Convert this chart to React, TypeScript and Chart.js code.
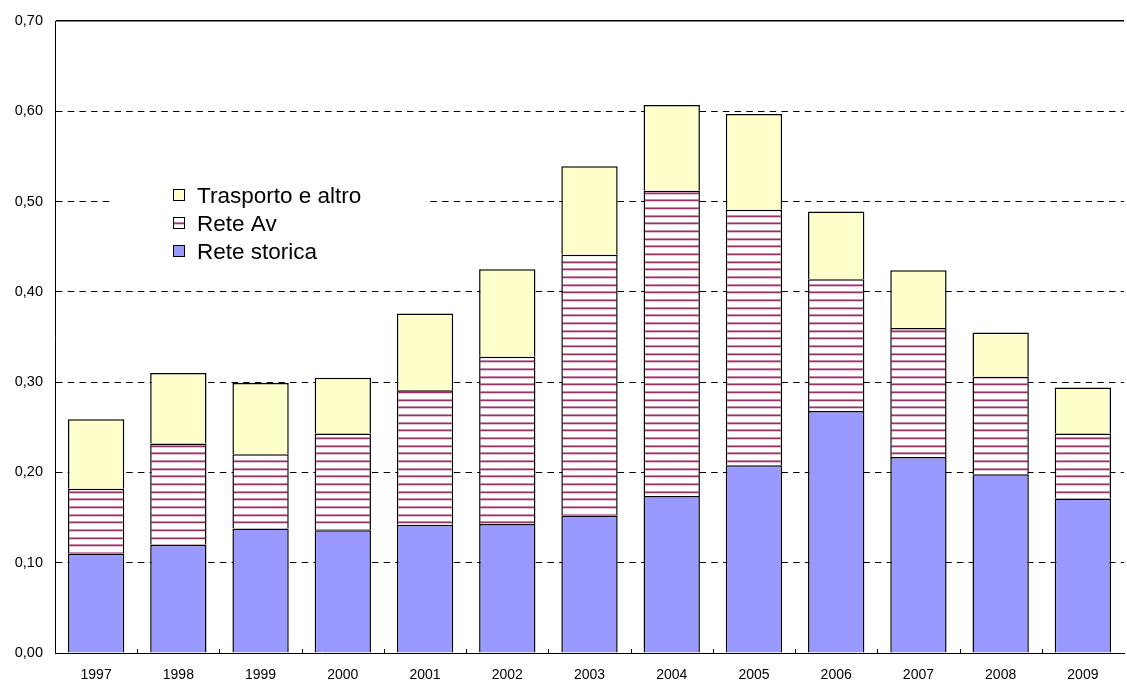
import React, { useEffect, useRef } from 'react';
import { Chart, registerables } from 'chart.js';

Chart.register(...registerables);

const years = ['1997', '1998', '1999', '2000', '2001', '2002', '2003', '2004', '2005', '2006', '2007', '2008', '2009'];
const reteStorica = [0.110, 0.120, 0.138, 0.136, 0.142, 0.143, 0.152, 0.174, 0.208, 0.268, 0.217, 0.198, 0.171];
const reteAv = [0.072, 0.112, 0.082, 0.107, 0.149, 0.185, 0.289, 0.338, 0.283, 0.146, 0.143, 0.108, 0.072];
const trasportoAltro = [0.077, 0.078, 0.079, 0.062, 0.085, 0.097, 0.098, 0.095, 0.106, 0.075, 0.064, 0.049, 0.051];
const yTickValues = [0, 0.1, 0.2, 0.3, 0.4, 0.5, 0.6, 0.7];
const seriesNames = ['Rete storica', 'Rete Av', 'Trasporto e altro'];

const FONT = "'Liberation Sans', Arial, Helvetica, sans-serif";

function makeStripePattern(ctx: CanvasRenderingContext2D): CanvasPattern | string {
  const c = document.createElement('canvas');
  c.width = 8;
  c.height = 23;
  const g = c.getContext('2d');
  if (!g) return '#993366';
  g.fillStyle = '#ffffff';
  g.fillRect(0, 0, 8, 23);
  for (const o of [0, 8, 15]) {
    g.fillStyle = '#c88aa9';
    g.fillRect(0, o, 8, 1);
    g.fillStyle = '#993366';
    g.fillRect(0, o + 1, 8, 1);
    g.fillStyle = '#e4c4d4';
    g.fillRect(0, o + 2, 8, 1);
  }
  return ctx.createPattern(c, 'repeat') || '#993366';
}

const boxLegendPlugin = {
  id: 'boxLegend',
  afterDatasetsDraw(chart: any) {
    const ctx = chart.ctx as CanvasRenderingContext2D;
    ctx.save();
    ctx.fillStyle = '#ffffff';
    ctx.fillRect(110, 168, 315, 104);
    const ds = chart.data.datasets.slice().reverse();
    ds.forEach((d: any, i: number) => {
      const base = 203 + i * 28;
      ctx.fillStyle = d.backgroundColor;
      ctx.fillRect(173, base - 14, 12, 12);
      ctx.strokeStyle = '#000000';
      ctx.lineWidth = 1;
      ctx.strokeRect(173.5, base - 13.5, 11, 11);
      ctx.fillStyle = '#000000';
      ctx.font = `22.5px ${FONT}`;
      ctx.textBaseline = 'alphabetic';
      ctx.textAlign = 'left';
      ctx.fillText(d.label, 197, base);
    });
    ctx.restore();
  },
};

const innerTicksPlugin = {
  id: 'innerTicks',
  afterDraw(chart: any) {
    const x = chart.scales.x;
    const ctx = chart.ctx as CanvasRenderingContext2D;
    const bottom = chart.chartArea.bottom;
    ctx.save();
    ctx.strokeStyle = '#000000';
    ctx.lineWidth = 1;
    for (let i = 1; i < years.length; i++) {
      const px = Math.round((x.getPixelForValue(i - 1) + x.getPixelForValue(i)) / 2) + 0.5;
      ctx.beginPath();
      ctx.moveTo(px, bottom);
      ctx.lineTo(px, bottom - 4);
      ctx.stroke();
    }
    ctx.restore();
  },
};

export default function App() {
  const canvasRef = useRef<HTMLCanvasElement | null>(null);

  useEffect(() => {
    const canvas = canvasRef.current;
    if (!canvas) return;
    const ctx = canvas.getContext('2d');
    if (!ctx) return;
    const stripes = makeStripePattern(ctx);

    const chart = new Chart(ctx, {
      type: 'bar',
      data: {
        labels: years,
        datasets: [
          {
            label: seriesNames[0],
            data: reteStorica,
            backgroundColor: '#9999ff',
            borderColor: '#000000',
            borderWidth: 1.5,
          },
          {
            label: seriesNames[1],
            data: reteAv,
            backgroundColor: stripes as any,
            borderColor: '#000000',
            borderWidth: 1.5,
          },
          {
            label: seriesNames[2],
            data: trasportoAltro,
            backgroundColor: '#ffffcc',
            borderColor: '#000000',
            borderWidth: 1.5,
          },
        ],
      },
      options: {
        responsive: false,
        animation: false,
        datasets: {
          bar: {
            barPercentage: 1,
            categoryPercentage: 0.685,
          },
        },
        layout: { padding: { left: 0, right: 3, top: 21, bottom: 0 } },
        plugins: {
          legend: { display: false },
          tooltip: { enabled: false },
        },
        scales: {
          x: {
            stacked: true,
            afterFit: (s: any) => {
              s.height = 31;
            },
            grid: { display: false, drawTicks: false },
            border: { display: true, color: '#000000', width: 1 },
            ticks: {
              color: '#000000',
              font: { family: FONT, size: 14 },
              padding: 14,
              maxRotation: 0,
            },
          },
          y: {
            stacked: true,
            min: 0,
            max: 0.7,
            afterFit: (s: any) => {
              s.width = 55;
            },
            afterBuildTicks: (s: any) => {
              s.ticks = yTickValues.map((v) => ({ value: v }));
            },
            grid: {
              display: true,
              drawTicks: false,
              color: (c: any) => (c.tick && c.tick.value === 0 ? 'rgba(0,0,0,0)' : '#000000'),
              lineWidth: (c: any) => (c.tick && c.tick.value > 0.69 ? 1.5 : 1),
            },
            border: {
              display: true,
              color: '#000000',
              width: 1,
              dash: (c: any) => (c.tick && c.tick.value > 0.69 ? [] : [6.5, 5.2]),
            },
            ticks: {
              color: '#000000',
              font: { family: FONT, size: 14.5 },
              padding: 12,
              callback: (v: any) => Number(v).toFixed(2).replace('.', ','),
            },
          },
        },
      },
      plugins: [boxLegendPlugin, innerTicksPlugin],
    });

    return () => {
      chart.destroy();
    };
  }, []);

  return (
    <div style={{ position: 'absolute', left: 0, top: 0, width: 1127, height: 684, background: '#ffffff' }}>
      <canvas ref={canvasRef} width={1127} height={684} style={{ display: 'block' }} />
    </div>
  );
}
